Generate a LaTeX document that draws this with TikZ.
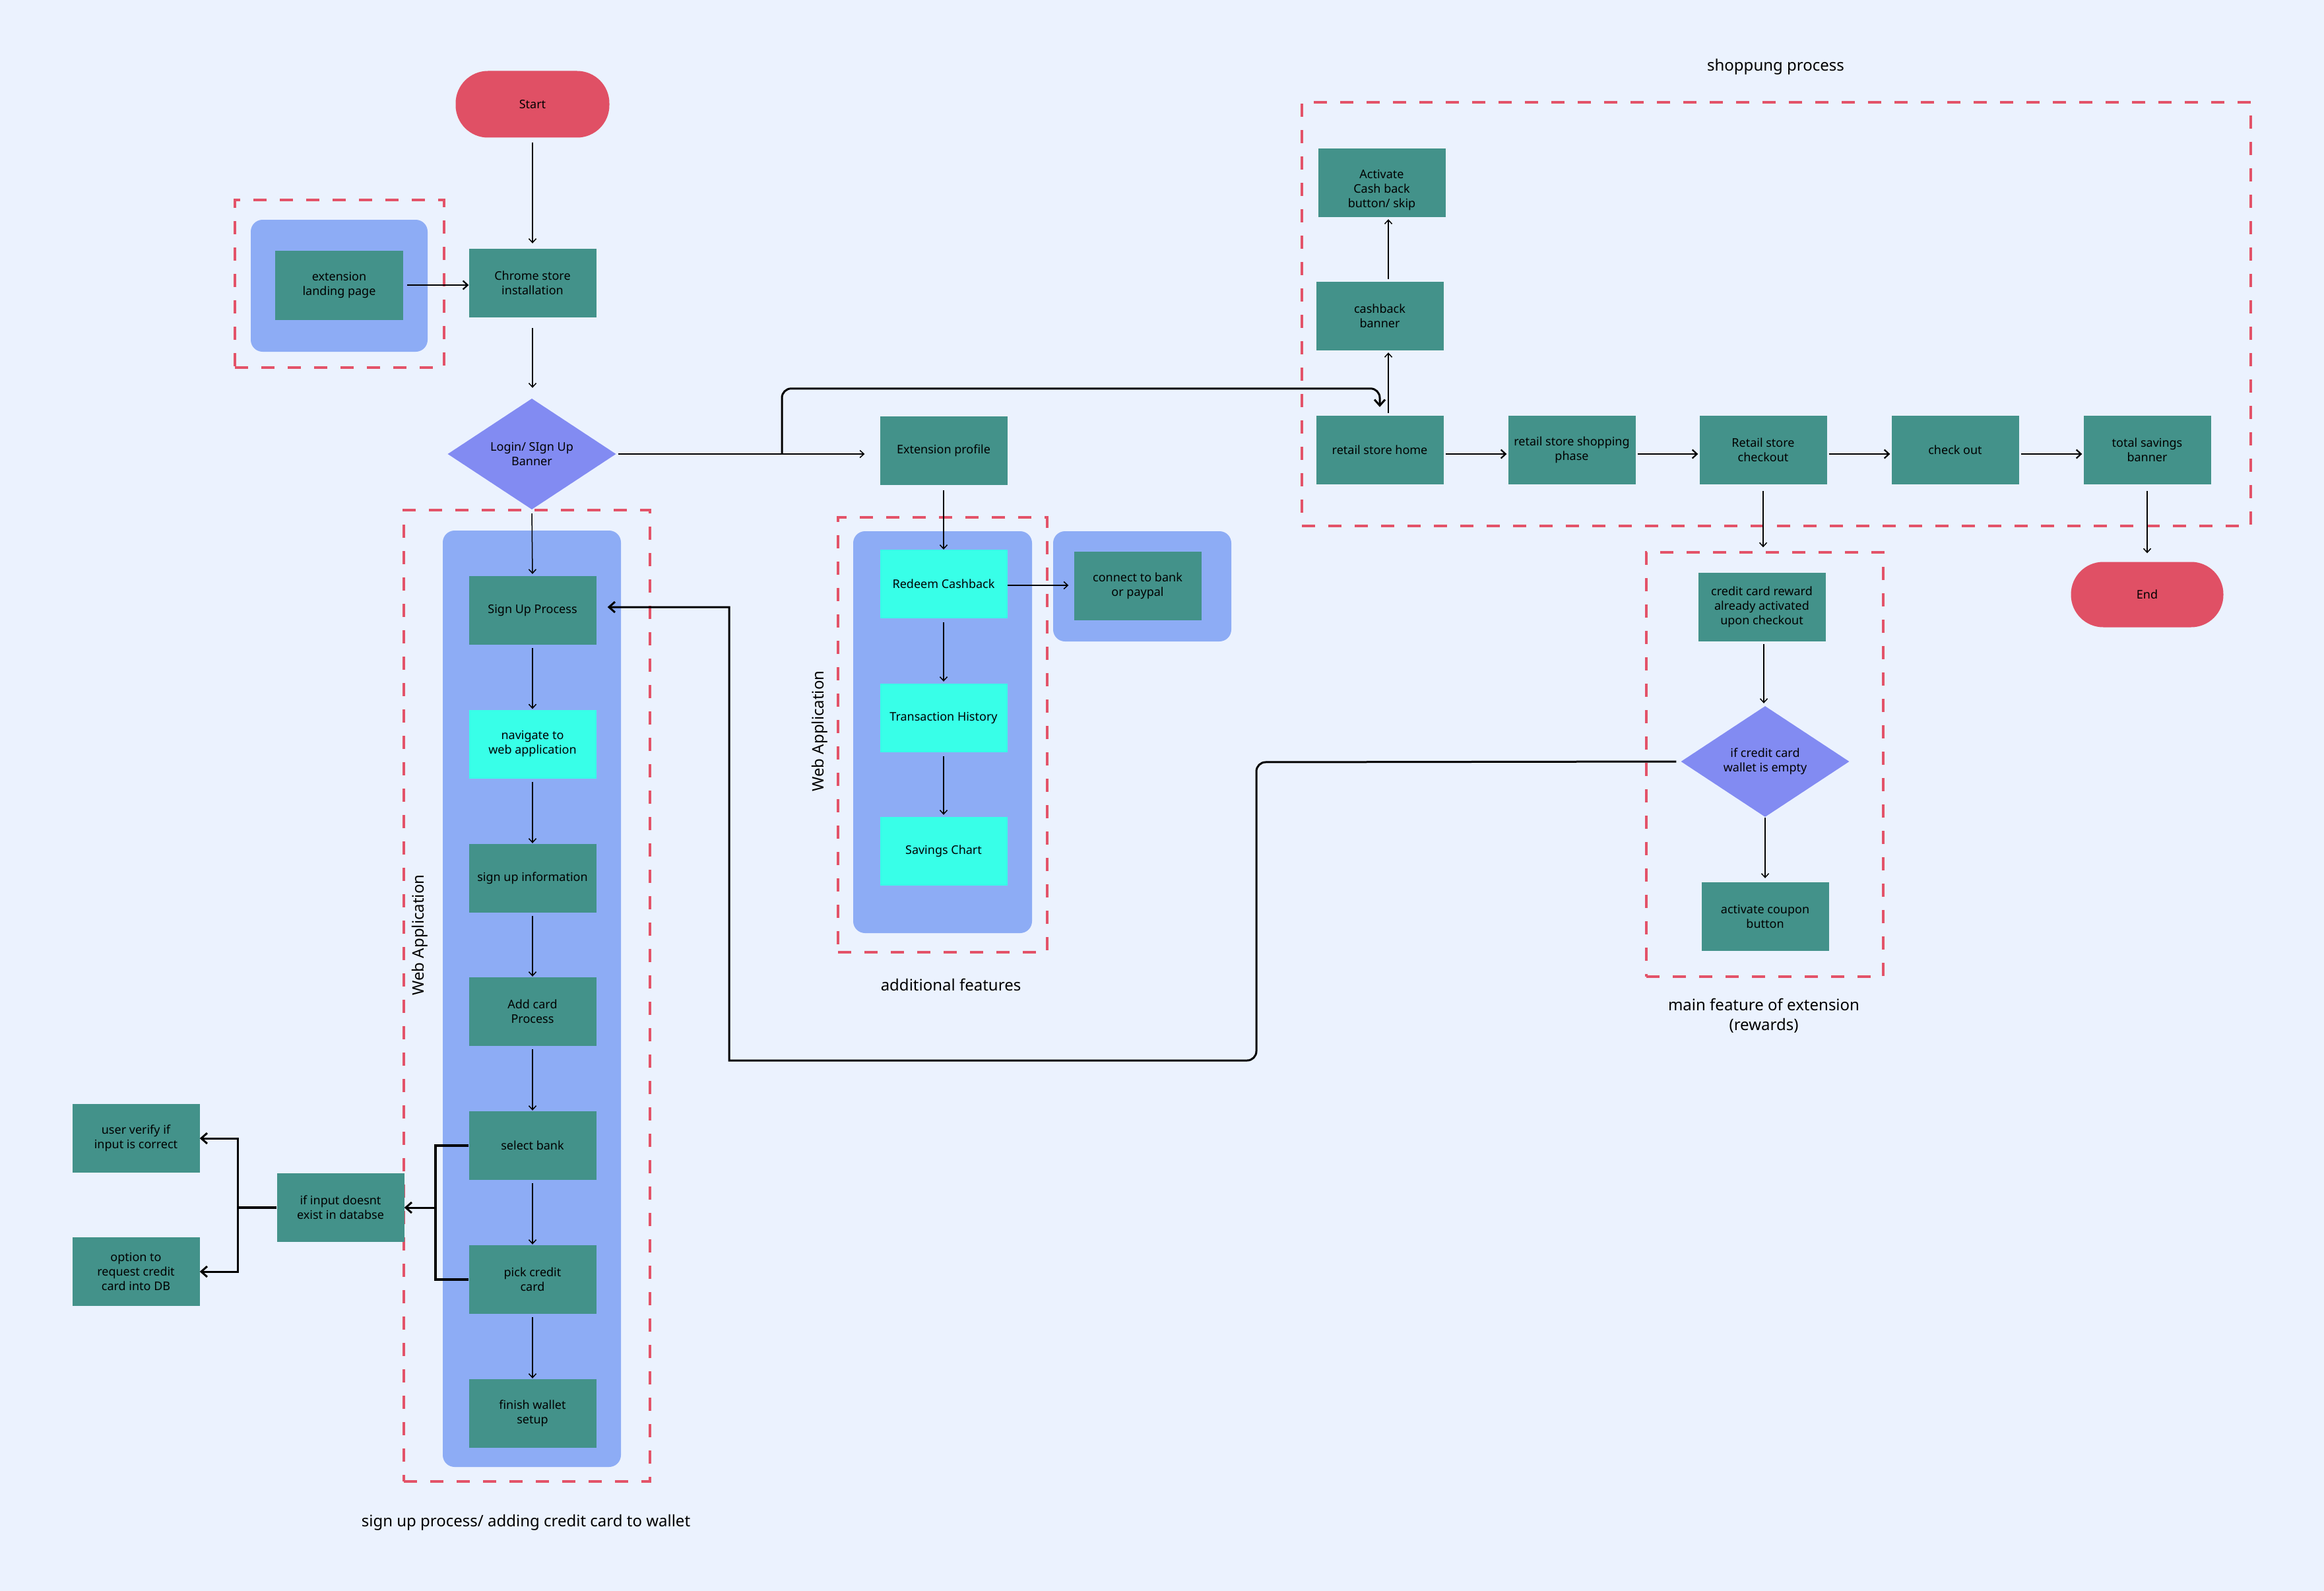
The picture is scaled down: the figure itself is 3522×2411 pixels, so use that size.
\documentclass[tikz,border=0pt]{standalone}
\usepackage{fontspec}
\setmainfont{Noto Sans}
\usetikzlibrary{arrows.meta,shapes.geometric,fit,calc}
\definecolor{bgc}{HTML}{EBF2FE}
\definecolor{boxteal}{HTML}{43928A}
\definecolor{cyanc}{HTML}{38FFE8}
\definecolor{contblue}{HTML}{8DACF5}
\definecolor{diac}{HTML}{828BF2}
\definecolor{termred}{HTML}{E05065}
\definecolor{dashred}{HTML}{E35369}
\newcommand\bxf{\fontsize{18}{22}\selectfont}
\newcommand\capf{\fontsize{24}{30}\selectfont}
\begin{document}
\begin{tikzpicture}[x=1pt,y=-1pt,
  box/.style={rectangle, fill=boxteal, minimum width=193pt, minimum height=104pt, inner sep=2pt, align=center, font=\bxf, text=black},
  cbox/.style={box, fill=cyanc},
  term/.style={rectangle, rounded corners=49pt, fill=termred, minimum width=233pt, minimum height=101pt, font=\bxf},
  dia/.style={diamond, aspect=1.5, fill=diac, minimum width=255pt, minimum height=168pt, inner sep=0pt, align=center, font=\bxf},
  grp/.style={draw=dashred, line width=3.3pt, dash pattern=on 20pt off 20pt, inner sep=0pt},
  cont/.style={fill=contblue, rounded corners=18pt, inner sep=0pt},
  arr/.style={draw=black, line width=1.5pt, -{Straight Barb[length=6pt,width=11pt]}},
  marr/.style={draw=black, line width=2.2pt, -{Straight Barb[length=7pt,width=13pt]}},
  barr/.style={draw=black, line width=3pt, -{Straight Barb[length=9pt,width=16pt]}},
  bline/.style={draw=black, line width=3.5pt},
  captxt/.style={font=\capf, align=center}
]
\fill[bgc] (0,0) rectangle (3522,2411);
\useasboundingbox (0,0) rectangle (3522,2411);

% groups and containers
\node[grp, fit={(356,303) (673,557)}] (g1) {};
\node[cont, fit={(380,333) (648,533)}] (c1) {};
\node[grp, fit={(612,773) (985,2245)}] (g2) {};
\node[cont, fit={(671,804) (941,2223)}] (c2) {};
\node[grp, fit={(1270,784) (1587,1443)}] (g3) {};
\node[cont, fit={(1293,805) (1564,1414)}] (c3) {};
\node[cont, fit={(1596,805) (1866,972)}] (c4) {};
\node[grp, fit={(1973,155) (3411,797)}] (g4) {};
\node[grp, fit={(2495,837) (2854,1480)}] (g5) {};

% nodes
\node[term] (start) at (807,158) {Start};
\node[box] (chrome) at (807,429) {Chrome store\\installation};
\node[box, minimum width=194pt, minimum height=105pt] (landing) at (514,432) {extension\\landing page};
\node[dia] (login) at (806,688) {Login/ SIgn Up\\Banner};
\node[box] (signup) at (807,925) {Sign Up Process};
\node[cbox] (nav) at (807,1127.5) {navigate to\\web application};
\node[box] (info) at (807,1331) {sign up information};
\node[box] (addcard) at (807,1533) {Add card\\Process};
\node[box] (bank) at (807,1736) {select bank};
\node[box] (pick) at (807,1939) {pick credit\\card};
\node[box] (finish) at (807,2142) {finish wallet\\setup};
\node[box] (ifinput) at (516,1830) {if input doesnt\\exist in databse};
\node[box] (verify) at (206,1725) {user verify if\\input is correct};
\node[box] (option) at (206,1927) {option to\\request credit\\card into DB};
\node[box] (ext) at (1430,683) {Extension profile};
\node[cbox] (redeem) at (1430,885) {Redeem Cashback};
\node[cbox] (trans) at (1430,1088) {Transaction History};
\node[cbox] (savings) at (1430,1290) {Savings Chart};
\node[box] (connect) at (1724,888) {connect to bank\\or paypal};
\node[box, label={[font=\bxf, align=center, yshift=-11pt]center:Activate\\Cash back\\button/ skip}] (activate) at (2094,277) {};
\node[box] (cashb) at (2091,479) {cashback\\banner};
\node[box] (home) at (2091,682) {retail store home};
\node[box] (shop) at (2382,682) {retail store shopping\\phase};
\node[box] (rcheck) at (2672,682) {Retail store\\checkout};
\node[box] (checkout) at (2963,682) {check out};
\node[box] (total) at (3254,682) {total savings\\banner};
\node[term, minimum width=231pt, minimum height=99pt] (endn) at (3254,901) {End};
\node[box] (reward) at (2670,920) {credit card reward\\already activated\\upon checkout};
\node[dia] (wallet) at (2675,1154) {if credit card\\wallet is empty};
\node[box] (coupon) at (2675,1389) {activate coupon\\button};

% labels
\node[captxt, rotate=90] (wa1) at (636,1417) {Web Application};
\node[captxt, rotate=90] (wa2) at (1242,1108) {Web Application};
\node[captxt] (cp1) at (797,2307) {sign up process/ adding credit card to wallet};
\node[captxt] (cp2) at (1441,1492) {additional features};
\node[captxt] (cp3) at (2673,1539) {main feature of extension\\(rewards)};
\node[captxt] (cp4) at (2691,101) {shoppung process};

% connectors: main column
\draw[arr, shorten <=7pt, shorten >=8pt] (start.south) -- (chrome.north);
\draw[marr, shorten <=6pt] (landing.east) -- (landing.east -| chrome.west);
\draw[arr, shorten <=16pt, shorten >=16pt] (chrome.south) -- (chrome.south |- login.north);
\draw[arr, shorten <=6pt, shorten >=3pt] (login.south) -- (signup.north);
\draw[arr, shorten <=5pt, shorten >=1pt] (signup.south) -- (nav.north);
\draw[arr, shorten <=5pt, shorten >=1pt] (nav.south) -- (info.north);
\draw[arr, shorten <=5pt, shorten >=1pt] (info.south) -- (addcard.north);
\draw[arr, shorten <=5pt, shorten >=1pt] (addcard.south) -- (bank.north);
\draw[arr, shorten <=5pt, shorten >=1pt] (bank.south) -- (pick.north);
\draw[arr, shorten <=5pt, shorten >=1pt] (pick.south) -- (finish.north);

% brackets
\coordinate (b1) at (660,1830);
\draw[bline] (bank.west) -| (b1);
\draw[bline] (pick.west) -| (b1);
\draw[barr] (b1) -- (b1 -| ifinput.east);
\coordinate (b2) at (360,1830);
\draw[bline] (ifinput.west) -- (b2);
\draw[barr] (b2) |- (verify.east);
\draw[barr] (b2) |- (option.east);

% login to extension profile and branch to retail store
\draw[arr, shorten <=3pt, shorten >=23pt] (login.east) -- (login.east -| ext.west);
\coordinate (br) at (1185,688);
\draw[barr, rounded corners=14pt, shorten >=13pt] (br) |- ($(home.north)+(0,-41)$) -- (home.north);

% additional features
\draw[arr, shorten <=8pt] (ext.south) -- (redeem.north);
\draw[arr, shorten <=6pt, shorten >=3pt] (redeem.south) -- (trans.north);
\draw[arr, shorten <=6pt, shorten >=3pt] (trans.south) -- (savings.north);
\draw[arr, shorten >=8pt] ([yshift=-2pt]redeem.east) -- ([yshift=-2pt]redeem.east -| connect.west);

% shopping process
\draw[arr, shorten <=4pt, shorten >=3pt] ([xshift=13pt]home.north) -- ([xshift=13pt]home.north |- cashb.south);
\draw[arr, shorten <=4pt, shorten >=3pt] ([xshift=13pt]cashb.north) -- ([xshift=13pt]cashb.north |- activate.south);
\draw[marr, shorten <=3pt, shorten >=2pt] ([yshift=-6pt]home.east) -- ([yshift=-6pt]home.east -| shop.west);
\draw[marr, shorten <=3pt, shorten >=2pt] ([yshift=-6pt]shop.east) -- ([yshift=-6pt]shop.east -| rcheck.west);
\draw[marr, shorten <=3pt, shorten >=2pt] ([yshift=-6pt]rcheck.east) -- ([yshift=-6pt]rcheck.east -| checkout.west);
\draw[marr, shorten <=3pt, shorten >=2pt] ([yshift=-6pt]checkout.east) -- ([yshift=-6pt]checkout.east -| total.west);
\draw[arr, shorten <=10pt, shorten >=6pt] (rcheck.south) -- (rcheck.south |- g5.north);
\draw[arr, shorten <=10pt, shorten >=13pt] (total.south) -- (endn.north);

% main feature
\draw[arr, shorten <=4pt, shorten >=4pt] ([xshift=3pt]reward.south) -- ([xshift=3pt]reward.south |- wallet.north);
\draw[arr, shorten <=1pt, shorten >=6pt] (wallet.south) -- (coupon.north);

% return connector
\coordinate (r1) at (1904,1155);
\coordinate (r2) at (1904,1607);
\coordinate (r3) at (1105,1607);
\coordinate (r4) at (1105,920);
\draw[barr, shorten >=17pt] ([xshift=-7pt]wallet.west) [rounded corners=14pt] -- (r1) -- (r2) [sharp corners] -- (r3) -- (r4) -- (r4 -| signup.east);
\end{tikzpicture}
\end{document}
